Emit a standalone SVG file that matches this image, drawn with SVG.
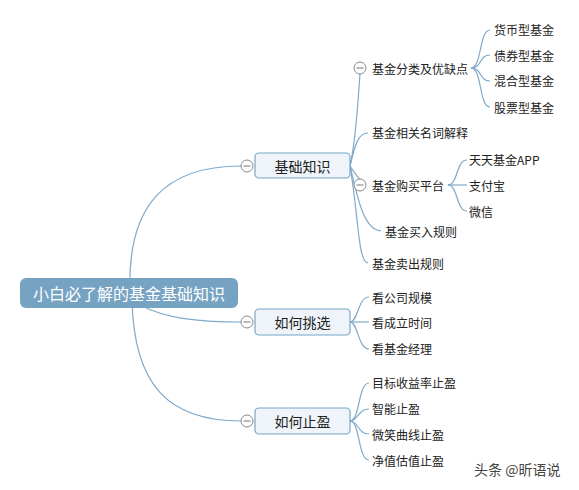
<svg xmlns="http://www.w3.org/2000/svg" width="579" height="490" viewBox="0 0 579 490">
<style>
text{font-family:"Microsoft YaHei","Noto Sans CJK SC",sans-serif;fill:#222;dominant-baseline:central}
.l2{font-size:12px}
.l1{font-size:14px;text-anchor:middle}
.root{font-size:16px;fill:#fff;text-anchor:middle}
.b1{fill:#eef4f9;stroke:#79a6c8;stroke-width:1.2}
.c path{fill:none;stroke:#7fa9c9;stroke-width:1.2}
.tg circle{fill:#fff;stroke:#888;stroke-width:1}
.tg line{stroke:#777;stroke-width:1}
</style>
<defs>
<g id="tog" class="tg"><circle r="6"/><line x1="-3.5" y1="0" x2="3.5" y2="0"/></g>
</defs>
<rect width="579" height="490" fill="#fff"/>
<g id="connectors" class="c">
<path d="M130,292 C127,205 165,166 241,166"/>
<path d="M140,305 C165,318 195,322 241,322"/>
<path d="M132,300 C134,385 168,421 241,421"/>
<path d="M350,166 C356,140 358,100 360,74"/>
<path d="M350,166 C355,145 358,133 368,133"/>
<path d="M350,166 C354,172 357,177 360,179"/>
<path d="M350,166 C358,200 364,230 381,231"/>
<path d="M350,166 C359,220 358,262 368,263"/>
<path d="M471,68 C482,68 479,30 490,30"/>
<path d="M471,68 C482,68 479,55 490,55"/>
<path d="M471,68 C482,68 479,81 490,81"/>
<path d="M471,68 C482,68 479,107 490,107"/>
<path d="M448,185 C458,185 456,160 467,160"/>
<path d="M448,185 L467,185"/>
<path d="M448,185 C458,185 456,211 467,211"/>
<path d="M350,322 C358,322 358,297 369,297"/>
<path d="M350,322 L369,322"/>
<path d="M350,322 C358,322 358,349 369,349"/>
<path d="M350,421 C360,421 358,383 369,383"/>
<path d="M350,421 C358,421 358,409 369,409"/>
<path d="M350,421 C358,421 358,434 369,434"/>
<path d="M350,421 C360,421 358,460 369,460"/>
</g>
<g id="root"><rect x="20" y="278" width="218" height="30" rx="6" fill="#77a3c3"/><text class="root" x="129" y="293">小白必了解的基金基础知识</text></g>
<g id="n-jichu"><rect class="b1" x="255" y="153" width="95" height="25" rx="4"/><text class="l1" x="302.5" y="165.5">基础知识</text><use href="#tog" x="247" y="166"/></g>
<g id="n-tiaoxuan"><rect class="b1" x="255" y="309" width="95" height="26" rx="4"/><text class="l1" x="302.5" y="322">如何挑选</text><use href="#tog" x="247" y="322"/></g>
<g id="n-zhiying"><rect class="b1" x="255" y="408" width="95" height="26" rx="4"/><text class="l1" x="302.5" y="421">如何止盈</text><use href="#tog" x="247" y="421"/></g>
<g id="n-fenlei"><use href="#tog" x="360" y="68"/><text class="l2" x="372" y="68">基金分类及优缺点</text></g>
<g id="n-mingci"><text class="l2" x="372" y="132">基金相关名词解释</text></g>
<g id="n-goumai"><use href="#tog" x="360" y="185"/><text class="l2" x="372" y="185">基金购买平台</text></g>
<g id="n-mairu"><text class="l2" x="385" y="231">基金买入规则</text></g>
<g id="n-maichu"><text class="l2" x="372" y="263">基金卖出规则</text></g>
<g id="n-huobi"><text class="l2" x="494" y="29">货币型基金</text></g>
<g id="n-zhaiquan"><text class="l2" x="494" y="55">债券型基金</text></g>
<g id="n-hunhe"><text class="l2" x="494" y="80">混合型基金</text></g>
<g id="n-gupiao"><text class="l2" x="494" y="107">股票型基金</text></g>
<g id="n-tiantian"><text class="l2" x="469" y="159">天天基金APP</text></g>
<g id="n-zhifubao"><text class="l2" x="469" y="185">支付宝</text></g>
<g id="n-weixin"><text class="l2" x="469" y="211">微信</text></g>
<g id="n-guimo"><text class="l2" x="372" y="297">看公司规模</text></g>
<g id="n-shijian"><text class="l2" x="372" y="322">看成立时间</text></g>
<g id="n-jingli"><text class="l2" x="372" y="348">看基金经理</text></g>
<g id="n-mubiao"><text class="l2" x="372" y="382">目标收益率止盈</text></g>
<g id="n-zhineng"><text class="l2" x="372" y="408">智能止盈</text></g>
<g id="n-weixiao"><text class="l2" x="372" y="434">微笑曲线止盈</text></g>
<g id="n-jingzhi"><text class="l2" x="372" y="460">净值估值止盈</text></g>
<text x="474" y="469" style="font-size:14px;fill:#444">头条 @昕语说</text>
</svg>
